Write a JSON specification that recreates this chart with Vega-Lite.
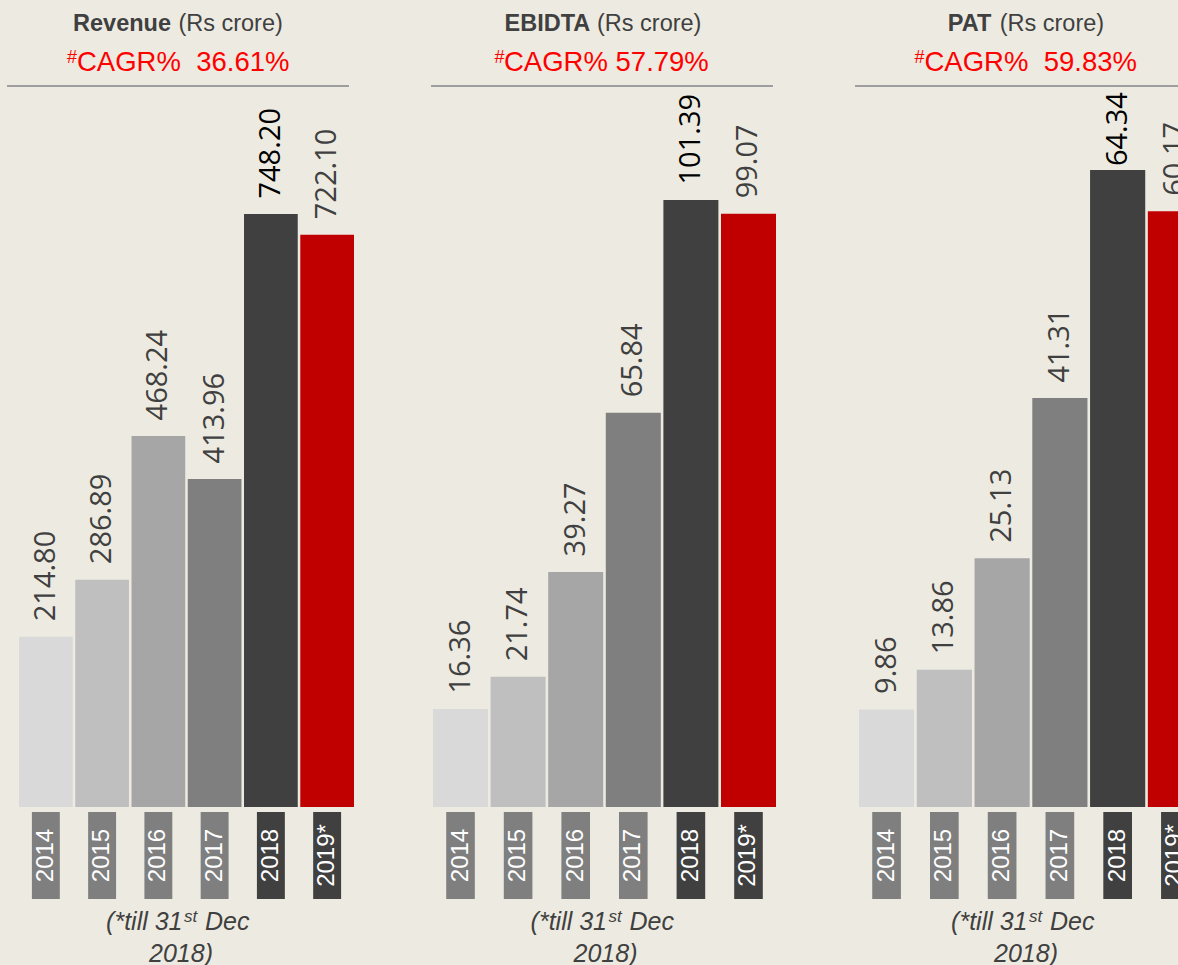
{
  "$schema": "https://vega.github.io/schema/vega-lite/v6.json",
  "background": "#EDEBE1",
  "padding": {"left": 6, "top": 0, "right": 0, "bottom": 0},
  "config": {"view": {"stroke": null}},
  "datasets": {
    "fin": [
      {"metric": "Revenue", "year": "2014", "value": 214.80},
      {"metric": "Revenue", "year": "2015", "value": 286.89},
      {"metric": "Revenue", "year": "2016", "value": 468.24},
      {"metric": "Revenue", "year": "2017", "value": 413.96},
      {"metric": "Revenue", "year": "2018", "value": 748.20},
      {"metric": "Revenue", "year": "2019*", "value": 722.10},
      {"metric": "EBIDTA", "year": "2014", "value": 16.36},
      {"metric": "EBIDTA", "year": "2015", "value": 21.74},
      {"metric": "EBIDTA", "year": "2016", "value": 39.27},
      {"metric": "EBIDTA", "year": "2017", "value": 65.84},
      {"metric": "EBIDTA", "year": "2018", "value": 101.39},
      {"metric": "EBIDTA", "year": "2019*", "value": 99.07},
      {"metric": "PAT", "year": "2014", "value": 9.86},
      {"metric": "PAT", "year": "2015", "value": 13.86},
      {"metric": "PAT", "year": "2016", "value": 25.13},
      {"metric": "PAT", "year": "2017", "value": 41.31},
      {"metric": "PAT", "year": "2018", "value": 64.34},
      {"metric": "PAT", "year": "2019*", "value": 60.17}
    ],
    "panels": [
      {"metric": "Revenue", "unit": "(Rs crore)", "cagr": "CAGR% \u00a036.61%"},
      {"metric": "EBIDTA", "unit": "(Rs crore)", "cagr": "CAGR% 57.79%"},
      {"metric": "PAT", "unit": "(Rs crore)", "cagr": "CAGR% \u00a059.83%"}
    ]
  },
  "spacing": 76,
  "resolve": {"scale": {"x": "independent", "y": "independent"}},
  "hconcat": [
    {
      "spacing": 0,
      "resolve": {"scale": {"x": "independent", "y": "independent"}},
      "vconcat": [
        {
          "width": 342, "height": 86,
          "data": {"name": "panels"},
          "transform": [{"filter": "datum.metric == 'Revenue'"}],
          "layer": [
            {"mark": {"type": "text", "font": "Liberation Sans", "fontSize": 23.5, "fontWeight": "bold", "color": "#404040", "align": "right", "baseline": "alphabetic", "dx": -7, "dy": -11.7}, "encoding": {"text": {"field": "metric"}}},
            {"mark": {"type": "text", "font": "Liberation Sans", "fontSize": 23.5, "color": "#404040", "align": "left", "baseline": "alphabetic", "dx": 0.4, "dy": -11.7}, "encoding": {"text": {"field": "unit"}}},
            {"mark": {"type": "text", "font": "Liberation Sans", "fontSize": 18, "color": "#FF0000", "align": "right", "baseline": "alphabetic", "dx": -101, "dy": 20.3}, "encoding": {"text": {"value": "#"}}},
            {"mark": {"type": "text", "font": "Liberation Sans", "fontSize": 27.5, "color": "#FF0000", "align": "left", "baseline": "alphabetic", "dx": -101, "dy": 27.7}, "encoding": {"text": {"field": "cagr"}}},
            {"mark": {"type": "rule", "color": "#9E9E9E", "strokeWidth": 2}, "encoding": {"x": {"value": 0}, "x2": {"value": "width"}, "y": {"value": "height"}}}
          ]
        },
        {
          "width": 347, "height": 725,
          "data": {"name": "fin"},
          "transform": [{"filter": "datum.metric == 'Revenue'"}],
          "encoding": {
            "x": {"field": "year", "type": "nominal", "sort": null, "axis": null, "scale": {"range": [0, 347], "paddingInner": 0.045, "paddingOuter": 0.1066, "align": 1}},
            "y": {"field": "value", "type": "quantitative", "axis": null, "scale": {"domain": [-6.3, 908.5], "nice": false, "zero": false}}
          },
          "layer": [
            {"mark": {"type": "bar"}, "encoding": {"color": {"field": "year", "type": "nominal", "legend": null, "scale": {"domain": ["2014", "2015", "2016", "2017", "2018", "2019*"], "range": ["#D9D9D9", "#BFBFBF", "#A6A6A6", "#7F7F7F", "#404040", "#C00000"]}}}},
            {"mark": {"type": "text", "angle": -90, "align": "left", "baseline": "middle", "dx": 15.5, "font": "Open Sans", "fontSize": 29}, "encoding": {"text": {"field": "value", "type": "quantitative", "format": ".2f"}, "color": {"condition": {"test": "datum.year == '2018'", "value": "#000000"}, "value": "#404040"}}}
          ]
        },
        {
          "width": 347, "height": 87,
          "data": {"name": "fin"},
          "transform": [{"filter": "datum.metric == 'Revenue'"}],
          "encoding": {
            "x": {"field": "year", "type": "nominal", "sort": null, "axis": null, "scale": {"range": [0, 347], "paddingInner": 0.045, "paddingOuter": 0.1066, "align": 1}}
          },
          "layer": [
            {"mark": {"type": "rect", "width": {"band": 0.52}}, "encoding": {"fill": {"condition": {"test": "datum.year == '2018' || datum.year == '2019*'", "value": "#404040"}, "value": "#7F7F7F"}}},
            {"mark": {"type": "text", "angle": -90, "align": "center", "baseline": "middle", "font": "Liberation Sans", "fontSize": 24, "color": "#FFFFFF"}, "encoding": {"text": {"field": "year"}}}
          ]
        },
        {
          "width": 347, "height": 67,
          "data": {"name": "panels"},
          "transform": [{"filter": "datum.metric == 'Revenue'"}],
          "layer": [
            {"mark": {"type": "text", "font": "Liberation Sans", "fontStyle": "italic", "fontSize": 25, "color": "#404040", "align": "right", "baseline": "alphabetic", "dx": 2, "dy": -2.2}, "encoding": {"text": {"value": "(*till 31"}}},
            {"mark": {"type": "text", "font": "Liberation Sans", "fontStyle": "italic", "fontSize": 17, "color": "#404040", "align": "left", "baseline": "alphabetic", "dx": 3.5, "dy": -10.8}, "encoding": {"text": {"value": "st"}}},
            {"mark": {"type": "text", "font": "Liberation Sans", "fontStyle": "italic", "fontSize": 25, "color": "#404040", "align": "left", "baseline": "alphabetic", "dx": 24.5, "dy": -2.2}, "encoding": {"text": {"value": "Dec"}}},
            {"mark": {"type": "text", "font": "Liberation Sans", "fontStyle": "italic", "fontSize": 25, "color": "#404040", "align": "center", "baseline": "alphabetic", "dx": 0.5, "dy": 29.5}, "encoding": {"text": {"value": "2018)"}}}
          ]
        }
      ]
    },
    {
      "spacing": 0,
      "resolve": {"scale": {"x": "independent", "y": "independent"}},
      "vconcat": [
        {
          "width": 342, "height": 86,
          "data": {"name": "panels"},
          "transform": [{"filter": "datum.metric == 'EBIDTA'"}],
          "layer": [
            {"mark": {"type": "text", "font": "Liberation Sans", "fontSize": 23.5, "fontWeight": "bold", "color": "#404040", "align": "right", "baseline": "alphabetic", "dx": -11.7, "dy": -11.7}, "encoding": {"text": {"field": "metric"}}},
            {"mark": {"type": "text", "font": "Liberation Sans", "fontSize": 23.5, "color": "#404040", "align": "left", "baseline": "alphabetic", "dx": -5, "dy": -11.7}, "encoding": {"text": {"field": "unit"}}},
            {"mark": {"type": "text", "font": "Liberation Sans", "fontSize": 18, "color": "#FF0000", "align": "right", "baseline": "alphabetic", "dx": -97.5, "dy": 20.3}, "encoding": {"text": {"value": "#"}}},
            {"mark": {"type": "text", "font": "Liberation Sans", "fontSize": 27.5, "color": "#FF0000", "align": "left", "baseline": "alphabetic", "dx": -98, "dy": 27.7}, "encoding": {"text": {"field": "cagr"}}},
            {"mark": {"type": "rule", "color": "#9E9E9E", "strokeWidth": 2}, "encoding": {"x": {"value": 0}, "x2": {"value": "width"}, "y": {"value": "height"}}}
          ]
        },
        {
          "width": 347, "height": 725,
          "data": {"name": "fin"},
          "transform": [{"filter": "datum.metric == 'EBIDTA'"}],
          "encoding": {
            "x": {"field": "year", "type": "nominal", "sort": null, "axis": null, "scale": {"range": [0, 345], "paddingInner": 0.045, "paddingOuter": 0.0174, "align": 1}},
            "y": {"field": "value", "type": "quantitative", "axis": null, "scale": {"domain": [-0.835, 120.26], "nice": false, "zero": false}}
          },
          "layer": [
            {"mark": {"type": "bar"}, "encoding": {"color": {"field": "year", "type": "nominal", "legend": null, "scale": {"domain": ["2014", "2015", "2016", "2017", "2018", "2019*"], "range": ["#D9D9D9", "#BFBFBF", "#A6A6A6", "#7F7F7F", "#404040", "#C00000"]}}}},
            {"mark": {"type": "text", "angle": -90, "align": "left", "baseline": "middle", "dx": 15.5, "font": "Open Sans", "fontSize": 29}, "encoding": {"text": {"field": "value", "type": "quantitative", "format": ".2f"}, "color": {"condition": {"test": "datum.year == '2018'", "value": "#000000"}, "value": "#404040"}}}
          ]
        },
        {
          "width": 347, "height": 87,
          "data": {"name": "fin"},
          "transform": [{"filter": "datum.metric == 'EBIDTA'"}],
          "encoding": {
            "x": {"field": "year", "type": "nominal", "sort": null, "axis": null, "scale": {"range": [0, 345], "paddingInner": 0.045, "paddingOuter": 0.0174, "align": 1}}
          },
          "layer": [
            {"mark": {"type": "rect", "width": {"band": 0.52}}, "encoding": {"fill": {"condition": {"test": "datum.year == '2018' || datum.year == '2019*'", "value": "#404040"}, "value": "#7F7F7F"}}},
            {"mark": {"type": "text", "angle": -90, "align": "center", "baseline": "middle", "font": "Liberation Sans", "fontSize": 24, "color": "#FFFFFF"}, "encoding": {"text": {"field": "year"}}}
          ]
        },
        {
          "width": 347, "height": 67,
          "data": {"name": "panels"},
          "transform": [{"filter": "datum.metric == 'EBIDTA'"}],
          "layer": [
            {"mark": {"type": "text", "font": "Liberation Sans", "fontStyle": "italic", "fontSize": 25, "color": "#404040", "align": "right", "baseline": "alphabetic", "dx": 2.5, "dy": -2.2}, "encoding": {"text": {"value": "(*till 31"}}},
            {"mark": {"type": "text", "font": "Liberation Sans", "fontStyle": "italic", "fontSize": 17, "color": "#404040", "align": "left", "baseline": "alphabetic", "dx": 4, "dy": -10.8}, "encoding": {"text": {"value": "st"}}},
            {"mark": {"type": "text", "font": "Liberation Sans", "fontStyle": "italic", "fontSize": 25, "color": "#404040", "align": "left", "baseline": "alphabetic", "dx": 25, "dy": -2.2}, "encoding": {"text": {"value": "Dec"}}},
            {"mark": {"type": "text", "font": "Liberation Sans", "fontStyle": "italic", "fontSize": 25, "color": "#404040", "align": "center", "baseline": "alphabetic", "dx": 1, "dy": 29.5}, "encoding": {"text": {"value": "2018)"}}}
          ]
        }
      ]
    },
    {
      "spacing": 0,
      "resolve": {"scale": {"x": "independent", "y": "independent"}},
      "vconcat": [
        {
          "width": 326, "height": 86,
          "data": {"name": "panels"},
          "transform": [{"filter": "datum.metric == 'PAT'"}],
          "layer": [
            {"mark": {"type": "text", "font": "Liberation Sans", "fontSize": 23.5, "fontWeight": "bold", "color": "#404040", "align": "right", "baseline": "alphabetic", "dx": -26.7, "dy": -11.7}, "encoding": {"text": {"field": "metric"}}},
            {"mark": {"type": "text", "font": "Liberation Sans", "fontSize": 23.5, "color": "#404040", "align": "left", "baseline": "alphabetic", "dx": -18.3, "dy": -11.7}, "encoding": {"text": {"field": "unit"}}},
            {"mark": {"type": "text", "font": "Liberation Sans", "fontSize": 18, "color": "#FF0000", "align": "right", "baseline": "alphabetic", "dx": -93.5, "dy": 20.3}, "encoding": {"text": {"value": "#"}}},
            {"mark": {"type": "text", "font": "Liberation Sans", "fontSize": 27.5, "color": "#FF0000", "align": "left", "baseline": "alphabetic", "dx": -93.5, "dy": 27.7}, "encoding": {"text": {"field": "cagr"}}},
            {"mark": {"type": "rule", "color": "#9E9E9E", "strokeWidth": 2}, "encoding": {"x": {"value": 0}, "x2": {"value": "width"}, "y": {"value": "height"}}}
          ]
        },
        {
          "width": 326, "height": 725,
          "data": {"name": "fin"},
          "transform": [{"filter": "datum.metric == 'PAT'"}],
          "encoding": {
            "x": {"field": "year", "type": "nominal", "sort": null, "axis": null, "scale": {"range": [0, 348], "paddingInner": 0.045, "paddingOuter": 0.0346, "align": 1}},
            "y": {"field": "value", "type": "quantitative", "axis": null, "scale": {"domain": [-0.505, 72.73], "nice": false, "zero": false}}
          },
          "layer": [
            {"mark": {"type": "bar", "clip": true}, "encoding": {"color": {"field": "year", "type": "nominal", "legend": null, "scale": {"domain": ["2014", "2015", "2016", "2017", "2018", "2019*"], "range": ["#D9D9D9", "#BFBFBF", "#A6A6A6", "#7F7F7F", "#404040", "#C00000"]}}}},
            {"transform": [{"filter": "datum.year != '2018'"}], "mark": {"type": "text", "clip": true, "angle": -90, "align": "left", "baseline": "middle", "dx": 15.5, "font": "Open Sans", "fontSize": 29, "color": "#404040"}, "encoding": {"text": {"field": "value", "type": "quantitative", "format": ".2f"}}},
            {"transform": [{"filter": "datum.year == '2018'"}], "mark": {"type": "text", "clip": true, "angle": -90, "align": "left", "baseline": "middle", "dx": 4, "font": "Open Sans", "fontSize": 29, "color": "#000000"}, "encoding": {"text": {"field": "value", "type": "quantitative", "format": ".2f"}}}
          ]
        },
        {
          "width": 326, "height": 87,
          "data": {"name": "fin"},
          "transform": [{"filter": "datum.metric == 'PAT'"}],
          "encoding": {
            "x": {"field": "year", "type": "nominal", "sort": null, "axis": null, "scale": {"range": [0, 348], "paddingInner": 0.045, "paddingOuter": 0.0346, "align": 1}}
          },
          "layer": [
            {"mark": {"type": "rect", "clip": true, "width": {"band": 0.52}}, "encoding": {"fill": {"condition": {"test": "datum.year == '2018' || datum.year == '2019*'", "value": "#404040"}, "value": "#7F7F7F"}}},
            {"mark": {"type": "text", "clip": true, "angle": -90, "align": "center", "baseline": "middle", "font": "Liberation Sans", "fontSize": 24, "color": "#FFFFFF"}, "encoding": {"text": {"field": "year"}}}
          ]
        },
        {
          "width": 326, "height": 67,
          "data": {"name": "panels"},
          "transform": [{"filter": "datum.metric == 'PAT'"}],
          "layer": [
            {"mark": {"type": "text", "font": "Liberation Sans", "fontStyle": "italic", "fontSize": 25, "color": "#404040", "align": "right", "baseline": "alphabetic", "dx": 9.5, "dy": -2.2}, "encoding": {"text": {"value": "(*till 31"}}},
            {"mark": {"type": "text", "font": "Liberation Sans", "fontStyle": "italic", "fontSize": 17, "color": "#404040", "align": "left", "baseline": "alphabetic", "dx": 11, "dy": -10.8}, "encoding": {"text": {"value": "st"}}},
            {"mark": {"type": "text", "font": "Liberation Sans", "fontStyle": "italic", "fontSize": 25, "color": "#404040", "align": "left", "baseline": "alphabetic", "dx": 32, "dy": -2.2}, "encoding": {"text": {"value": "Dec"}}},
            {"mark": {"type": "text", "font": "Liberation Sans", "fontStyle": "italic", "fontSize": 25, "color": "#404040", "align": "center", "baseline": "alphabetic", "dx": 8, "dy": 29.5}, "encoding": {"text": {"value": "2018)"}}}
          ]
        }
      ]
    }
  ]
}
